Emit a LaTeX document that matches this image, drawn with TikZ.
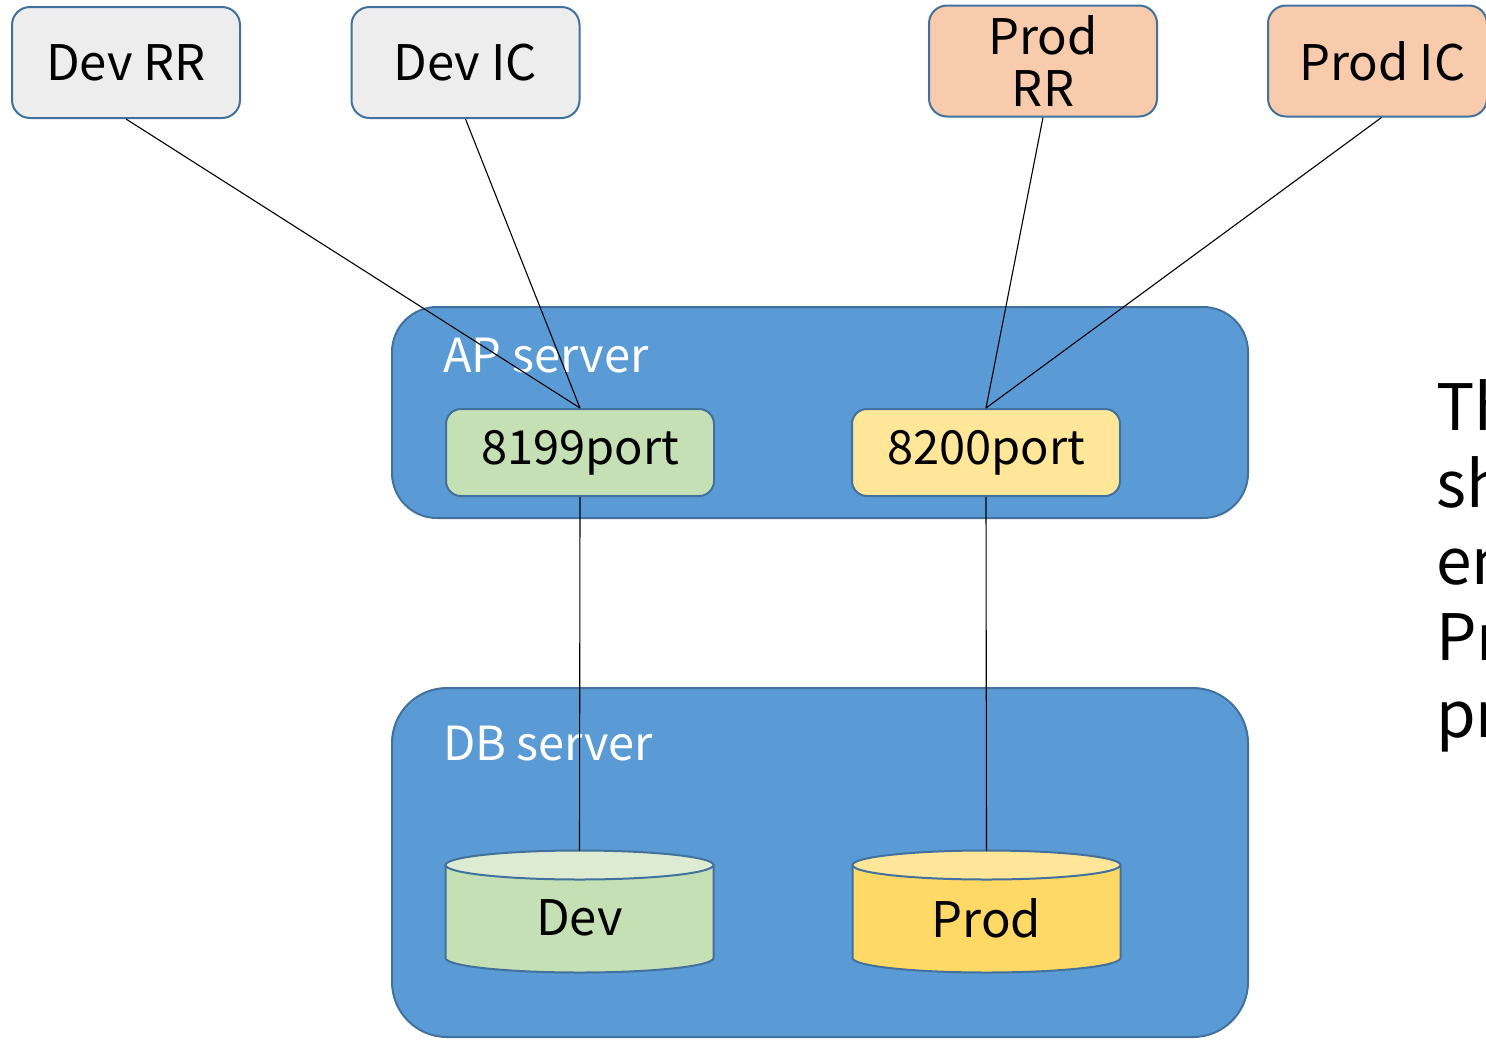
\documentclass[tikz,border=0pt]{standalone}
\usepackage{fontspec}
\setmainfont{Noto Sans CJK JP}
\definecolor{bord}{HTML}{41719C}
\definecolor{grayfill}{HTML}{EDEDED}
\definecolor{peach}{HTML}{F8CBAD}
\definecolor{srvblue}{HTML}{5B9BD5}
\definecolor{greenfill}{HTML}{C5E0B4}
\definecolor{greentop}{HTML}{DEEBD3}
\definecolor{yellowlt}{HTML}{FFE699}
\definecolor{yellowdk}{HTML}{FFD966}
\begin{document}
\begin{tikzpicture}[x=1pt,y=-1pt,
  topbox/.style={draw=bord, line width=2pt, rounded corners=18pt, minimum width=228pt, minimum height=111pt, inner sep=0pt, align=center, text=black, font=\fontsize{49}{55}\selectfont},
  portbox/.style={draw=bord, line width=2pt, rounded corners=15pt, minimum width=268pt, minimum height=87pt, inner sep=0pt, text=black, font=\fontsize{47}{55}\selectfont},
  server/.style={draw=bord, line width=2pt, fill=srvblue, inner sep=0pt},
  srvlabel/.style={anchor=base west, text=white, inner sep=0pt, font=\fontsize{47}{52}\selectfont},
  dbtext/.style={text=black, inner sep=0pt, font=\fontsize{49}{55}\selectfont},
  sidetext/.style={anchor=base west, inner sep=0pt, text=black, font=\fontsize{64}{77}\selectfont},
  conn/.style={draw=black, line width=1.1pt}]
\useasboundingbox (0,0) rectangle (1486,1039);
\clip (0,0) rectangle (1486,1039);
\fill[white] (0,0) rectangle (1486,1039);

% servers
\node[server, rounded corners=45pt, minimum width=856pt, minimum height=211pt] (ap) at (820,412.5) {};
\node[server, rounded corners=55pt, minimum width=856pt, minimum height=349pt] (db) at (820,862.5) {};
\node[srvlabel] (aplbl) at (443,372) {AP server};
\node[srvlabel] (dblbl) at (443,760) {DB server};

% top boxes
\node[topbox, fill=grayfill] (devrr) at (126,62.5) {Dev RR};
\node[topbox, fill=grayfill] (devic) at (465.5,62.5) {Dev IC};
\node[topbox, fill=peach] (prodrr) at (1043,61) {Prod\\[-3pt]RR};
\node[topbox, fill=peach, minimum width=219pt] (prodic) at (1377.5,61) {\hspace*{10pt}Prod IC};

% ports
\node[portbox, fill=greenfill] (p8199) at (580,452.5) {8199port};
\node[portbox, fill=yellowlt] (p8200) at (986,452.5) {8200port};

% cylinders
\filldraw[draw=bord, line width=2pt, fill=greenfill] (445.5,865) -- (445.5,958) arc[start angle=180, end angle=360, x radius=134pt, y radius=14.5pt] -- (713.5,865) -- cycle;
\filldraw[draw=bord, line width=2pt, fill=greentop] (579.5,865) ellipse [x radius=134pt, y radius=14.5pt];
\coordinate (devtop) at (579.5,850.5);
\node[dbtext] (devdb) at (579.5,918) {Dev};

\filldraw[draw=bord, line width=2pt, fill=yellowdk] (852.5,865) -- (852.5,958) arc[start angle=180, end angle=360, x radius=134pt, y radius=14.5pt] -- (1120.5,865) -- cycle;
\filldraw[draw=bord, line width=2pt, fill=yellowlt] (986.5,865) ellipse [x radius=134pt, y radius=14.5pt];
\coordinate (prodtop) at (986.5,850.5);
\node[dbtext] (proddb) at (986.5,918) {Prod};

% connectors
\draw[conn] (devrr.south) -- (p8199.north);
\draw[conn] (devic.south) -- (p8199.north);
\draw[conn] (prodrr.south) -- (p8200.north);
\draw[conn] ([xshift=4pt]prodic.south) -- (p8200.north);
\draw[conn] (p8199.south) -- (devtop);
\draw[conn] (p8200.south) -- (prodtop);

% side text (cut by the picture edge, as in the reference)
\node[sidetext] (s1) at (1436,430) {Th};
\node[sidetext] (s2) at (1436,507) {sh};
\node[sidetext] (s3) at (1436,584) {en};
\node[sidetext] (s4) at (1436,660) {Pr};
\node[sidetext] (s5) at (1436,737) {pr};
\end{tikzpicture}
\end{document}
